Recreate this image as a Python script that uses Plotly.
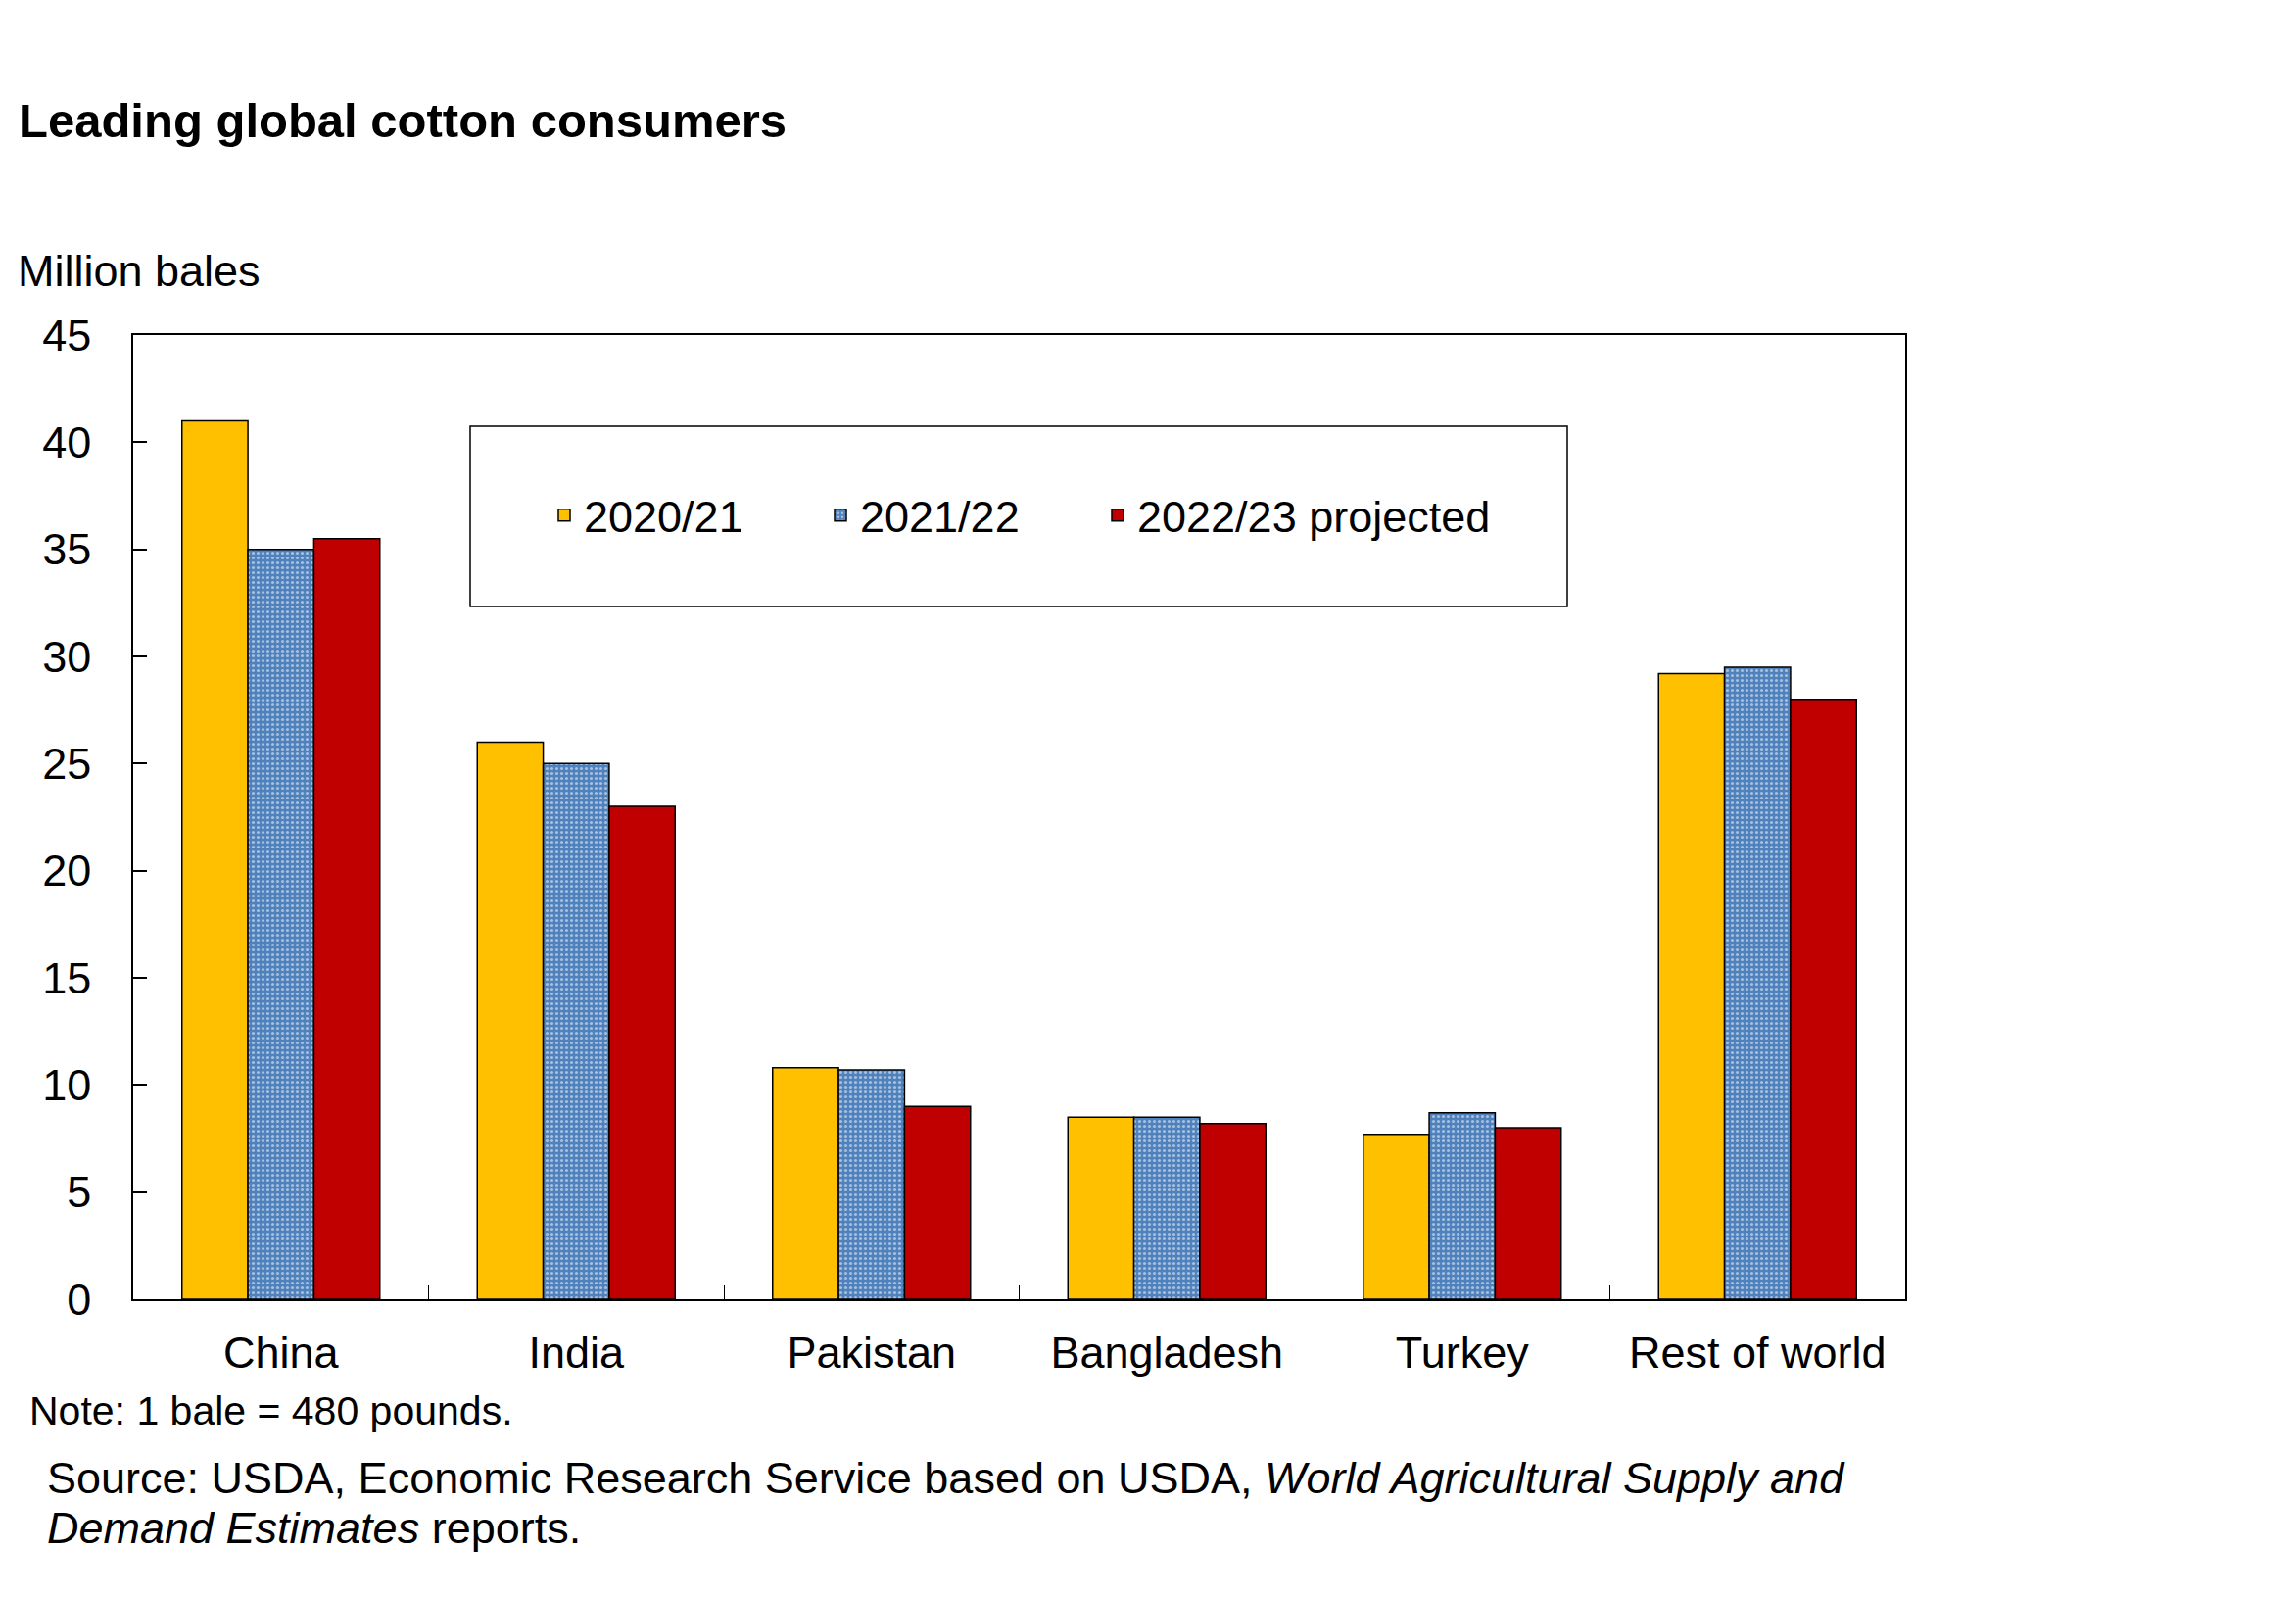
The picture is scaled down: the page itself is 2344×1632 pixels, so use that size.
import plotly.graph_objects as go

categories = ["China", "India", "Pakistan", "Bangladesh", "Turkey", "Rest of world"]
series_names = ["2020/21", "2021/22", "2022/23 projected"]
v_2020 = [41.0, 26.0, 10.8, 8.5, 7.7, 29.2]
v_2021 = [35.0, 25.0, 10.7, 8.5, 8.7, 29.5]
v_2022 = [35.5, 23.0, 9.0, 8.2, 8.0, 28.0]
y_ticks = [0, 5, 10, 15, 20, 25, 30, 35, 40, 45]

FONT = "Liberation Sans, Arial, sans-serif"
OFF = 8  # default body margin of the html page
W, H = 2344 - 2 * OFF, 1632 - 2 * OFF
# plot area in page pixels
L, R, T, B = 136, 1945, 342, 1326
PW, PH = R - L, B - T

def px(x):
    return (x - L) / PW

def py(y):
    return (B - y) / PH

fig = go.Figure()
fig.add_trace(go.Bar(
    name=series_names[0], x=categories, y=v_2020, legend="legend",
    marker=dict(color="#FFC000", line=dict(color="black", width=1.5)),
))
fig.add_trace(go.Bar(
    name=series_names[1], x=categories, y=v_2021, legend="legend2",
    marker=dict(color="#4F81BD", line=dict(color="black", width=1.5),
                pattern=dict(shape=".", fgcolor="white", bgcolor="#4F81BD",
                             size=5, solidity=0.3)),
))
fig.add_trace(go.Bar(
    name=series_names[2], x=categories, y=v_2022, legend="legend3",
    marker=dict(color="#C00000", line=dict(color="black", width=1.5)),
))

def leg(xpage):
    return dict(orientation="h", x=px(xpage), xanchor="left", y=py(526), yanchor="middle",
                bgcolor="rgba(0,0,0,0)", borderwidth=0,
                font=dict(family=FONT, size=45, color="black"))

fig.update_layout(
    width=W, height=H,
    margin=dict(l=L - OFF, r=W - (R - OFF), t=T - OFF, b=H - (B - OFF), pad=0),
    paper_bgcolor="white", plot_bgcolor="white",
    barmode="group", bargap=0.33, bargroupgap=0,
    font=dict(family=FONT, size=45, color="black"),
    title=dict(text="<b>Leading global cotton consumers</b>",
               x=(19 - OFF) / W, xanchor="left", xref="container",
               y=1 - (123 - OFF) / H, yanchor="middle", yref="container",
               font=dict(family=FONT, size=49, color="black")),
    legend=leg(556),
    legend2=leg(838),
    legend3=leg(1121),
    showlegend=True,
)

fig.update_xaxes(
    showline=True, linecolor="black", linewidth=1.5, mirror=True,
    ticks="inside", ticklen=14, tickcolor="black", tickwidth=1.2,
    tickson="boundaries", showgrid=False,
    tickfont=dict(family=FONT, size=45, color="black"),
    ticklabelstandoff=14,
)
fig.update_yaxes(
    range=[0, 45], tickvals=y_ticks, ticktext=[str(v) for v in y_ticks],
    showline=True, linecolor="black", linewidth=1.5, mirror=True,
    ticks="inside", ticklen=14, tickcolor="black", tickwidth=1.5,
    showgrid=False, zeroline=False,
    tickfont=dict(family=FONT, size=45, color="black"),
    ticklabelstandoff=32,
)

# legend frame
fig.add_shape(type="rect", xref="paper", yref="paper",
              x0=px(480), x1=px(1600), y0=py(619), y1=py(435),
              line=dict(color="black", width=1.5), fillcolor="rgba(0,0,0,0)", layer="below")

fig.add_annotation(text="Million bales", xref="paper", yref="paper",
                   x=px(16), y=py(277), xanchor="left", yanchor="middle",
                   showarrow=False, font=dict(family=FONT, size=45, color="black"))
fig.add_annotation(text="Note: 1 bale = 480 pounds.", xref="paper", yref="paper",
                   x=px(28), y=py(1440), xanchor="left", yanchor="middle",
                   showarrow=False, font=dict(family=FONT, size=41, color="black"))
fig.add_annotation(text="Source: USDA, Economic Research Service based on USDA, <i>World Agricultural Supply and</i>",
                   xref="paper", yref="paper",
                   x=px(46), y=py(1508), xanchor="left", yanchor="middle",
                   showarrow=False, font=dict(family=FONT, size=45, color="black"))
fig.add_annotation(text="<i>Demand Estimates</i> reports.",
                   xref="paper", yref="paper",
                   x=px(46), y=py(1559), xanchor="left", yanchor="middle",
                   showarrow=False, font=dict(family=FONT, size=45, color="black"))

fig.write_html("out.html")
